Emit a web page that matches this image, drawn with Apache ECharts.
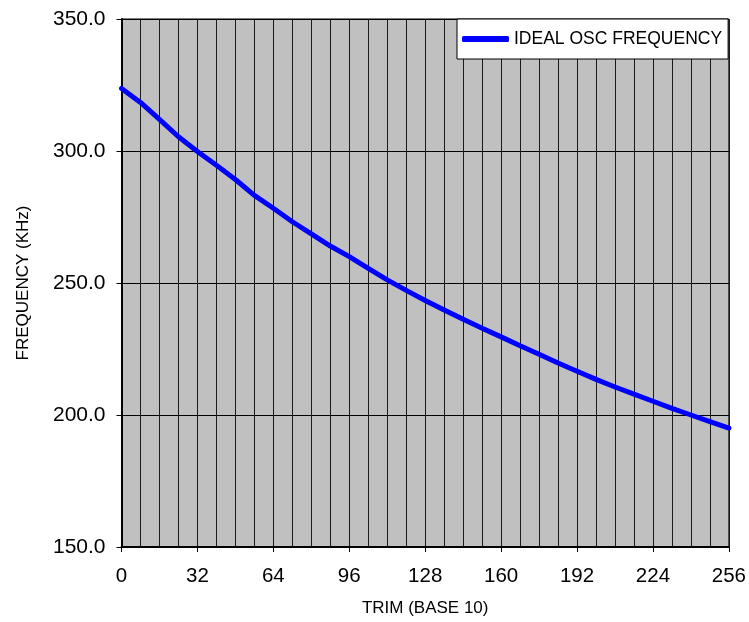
<!DOCTYPE html>
<html>
<head>
<meta charset="utf-8">
<script src="https://cdn.jsdelivr.net/npm/echarts@6/dist/echarts.min.js"></script>
<style>
html,body{margin:0;padding:0;background:#fff;}
#chart{width:749px;height:622px;}
</style>
</head>
<body>
<div id="chart"></div>
<script>
const trim = [0, 8, 16, 24, 32, 40, 48, 56, 64, 72, 80, 88, 96, 104, 112, 120, 128,
              136, 144, 152, 160, 168, 176, 184, 192, 200, 208, 216, 224, 232, 240, 248, 256];
const freq = [323.7, 318.4, 312.0, 305.4, 299.8, 294.6, 289.2, 283.2, 278.3, 273.2, 268.6,
              264.0, 260.0, 255.5, 251.2, 247.2, 243.4, 239.8, 236.3, 232.9, 229.6, 226.2,
              223.0, 219.7, 216.6, 213.5, 210.6, 207.9, 205.2, 202.5, 200.0, 197.5, 195.0];
const seriesName = 'IDEAL OSC FREQUENCY';
const xName = 'TRIM (BASE 10)';
const yName = 'FREQUENCY (KHz)';

const FONT = "'Liberation Sans', Arial, sans-serif";
const chart = echarts.init(document.getElementById('chart'), null, {renderer: 'canvas'});
chart.setOption({
  animation: false,
  backgroundColor: '#ffffff',
  grid: {
    left: 121.5, top: 19, right: 20, bottom: 72,
    show: true, backgroundColor: '#c0c0c0', borderColor: '#000', borderWidth: 1,
    containLabel: false
  },
  legend: {
    left: 457, top: 19,
    padding: [11, 6, 11, 5],
    backgroundColor: '#ffffff',
    borderColor: '#000', borderWidth: 1,
    icon: 'roundRect',
    itemWidth: 47, itemHeight: 6,
    itemGap: 5,
    textStyle: {fontFamily: FONT, fontSize: 17.5, color: '#000'},
    data: [seriesName]
  },
  xAxis: [{
    type: 'value', min: 0, max: 256, interval: 32,
    name: xName, nameLocation: 'middle', nameGap: 53,
    nameTextStyle: {fontFamily: FONT, fontSize: 17, color: '#000'},
    axisLine: {show: true, lineStyle: {color: '#000', width: 2}},
    axisTick: {show: true, inside: false, length: 5, lineStyle: {color: '#000', width: 1}},
    axisLabel: {fontFamily: FONT, fontSize: 20.5, color: '#000', margin: 19},
    splitLine: {show: false}
  }, {
    type: 'value', min: 0, max: 256, interval: 8, position: 'bottom',
    axisLine: {show: false}, axisTick: {show: false}, axisLabel: {show: false},
    splitLine: {show: true, lineStyle: {color: '#1a1a1a', width: 1}}
  }],
  yAxis: {
    type: 'value', min: 150, max: 350, interval: 50,
    name: yName, nameLocation: 'middle', nameGap: 90, nameRotate: 90,
    nameTextStyle: {fontFamily: FONT, fontSize: 17, color: '#000'},
    axisLine: {show: true, lineStyle: {color: '#000', width: 2}},
    axisTick: {show: true, inside: false, length: 5, lineStyle: {color: '#000', width: 1}},
    axisLabel: {fontFamily: FONT, fontSize: 21, color: '#000', margin: 16,
      formatter: v => v.toFixed(1)},
    splitLine: {show: true, lineStyle: {color: '#000', width: 1}}
  },
  series: [{
    name: seriesName, type: 'line', xAxisIndex: 0,
    data: trim.map((t, i) => [t, freq[i]]),
    showSymbol: false, symbol: 'none',
    lineStyle: {color: '#0000ff', width: 5, cap: 'round', join: 'round'},
    itemStyle: {color: '#0000ff'}
  }]
});
</script>
</body>
</html>
